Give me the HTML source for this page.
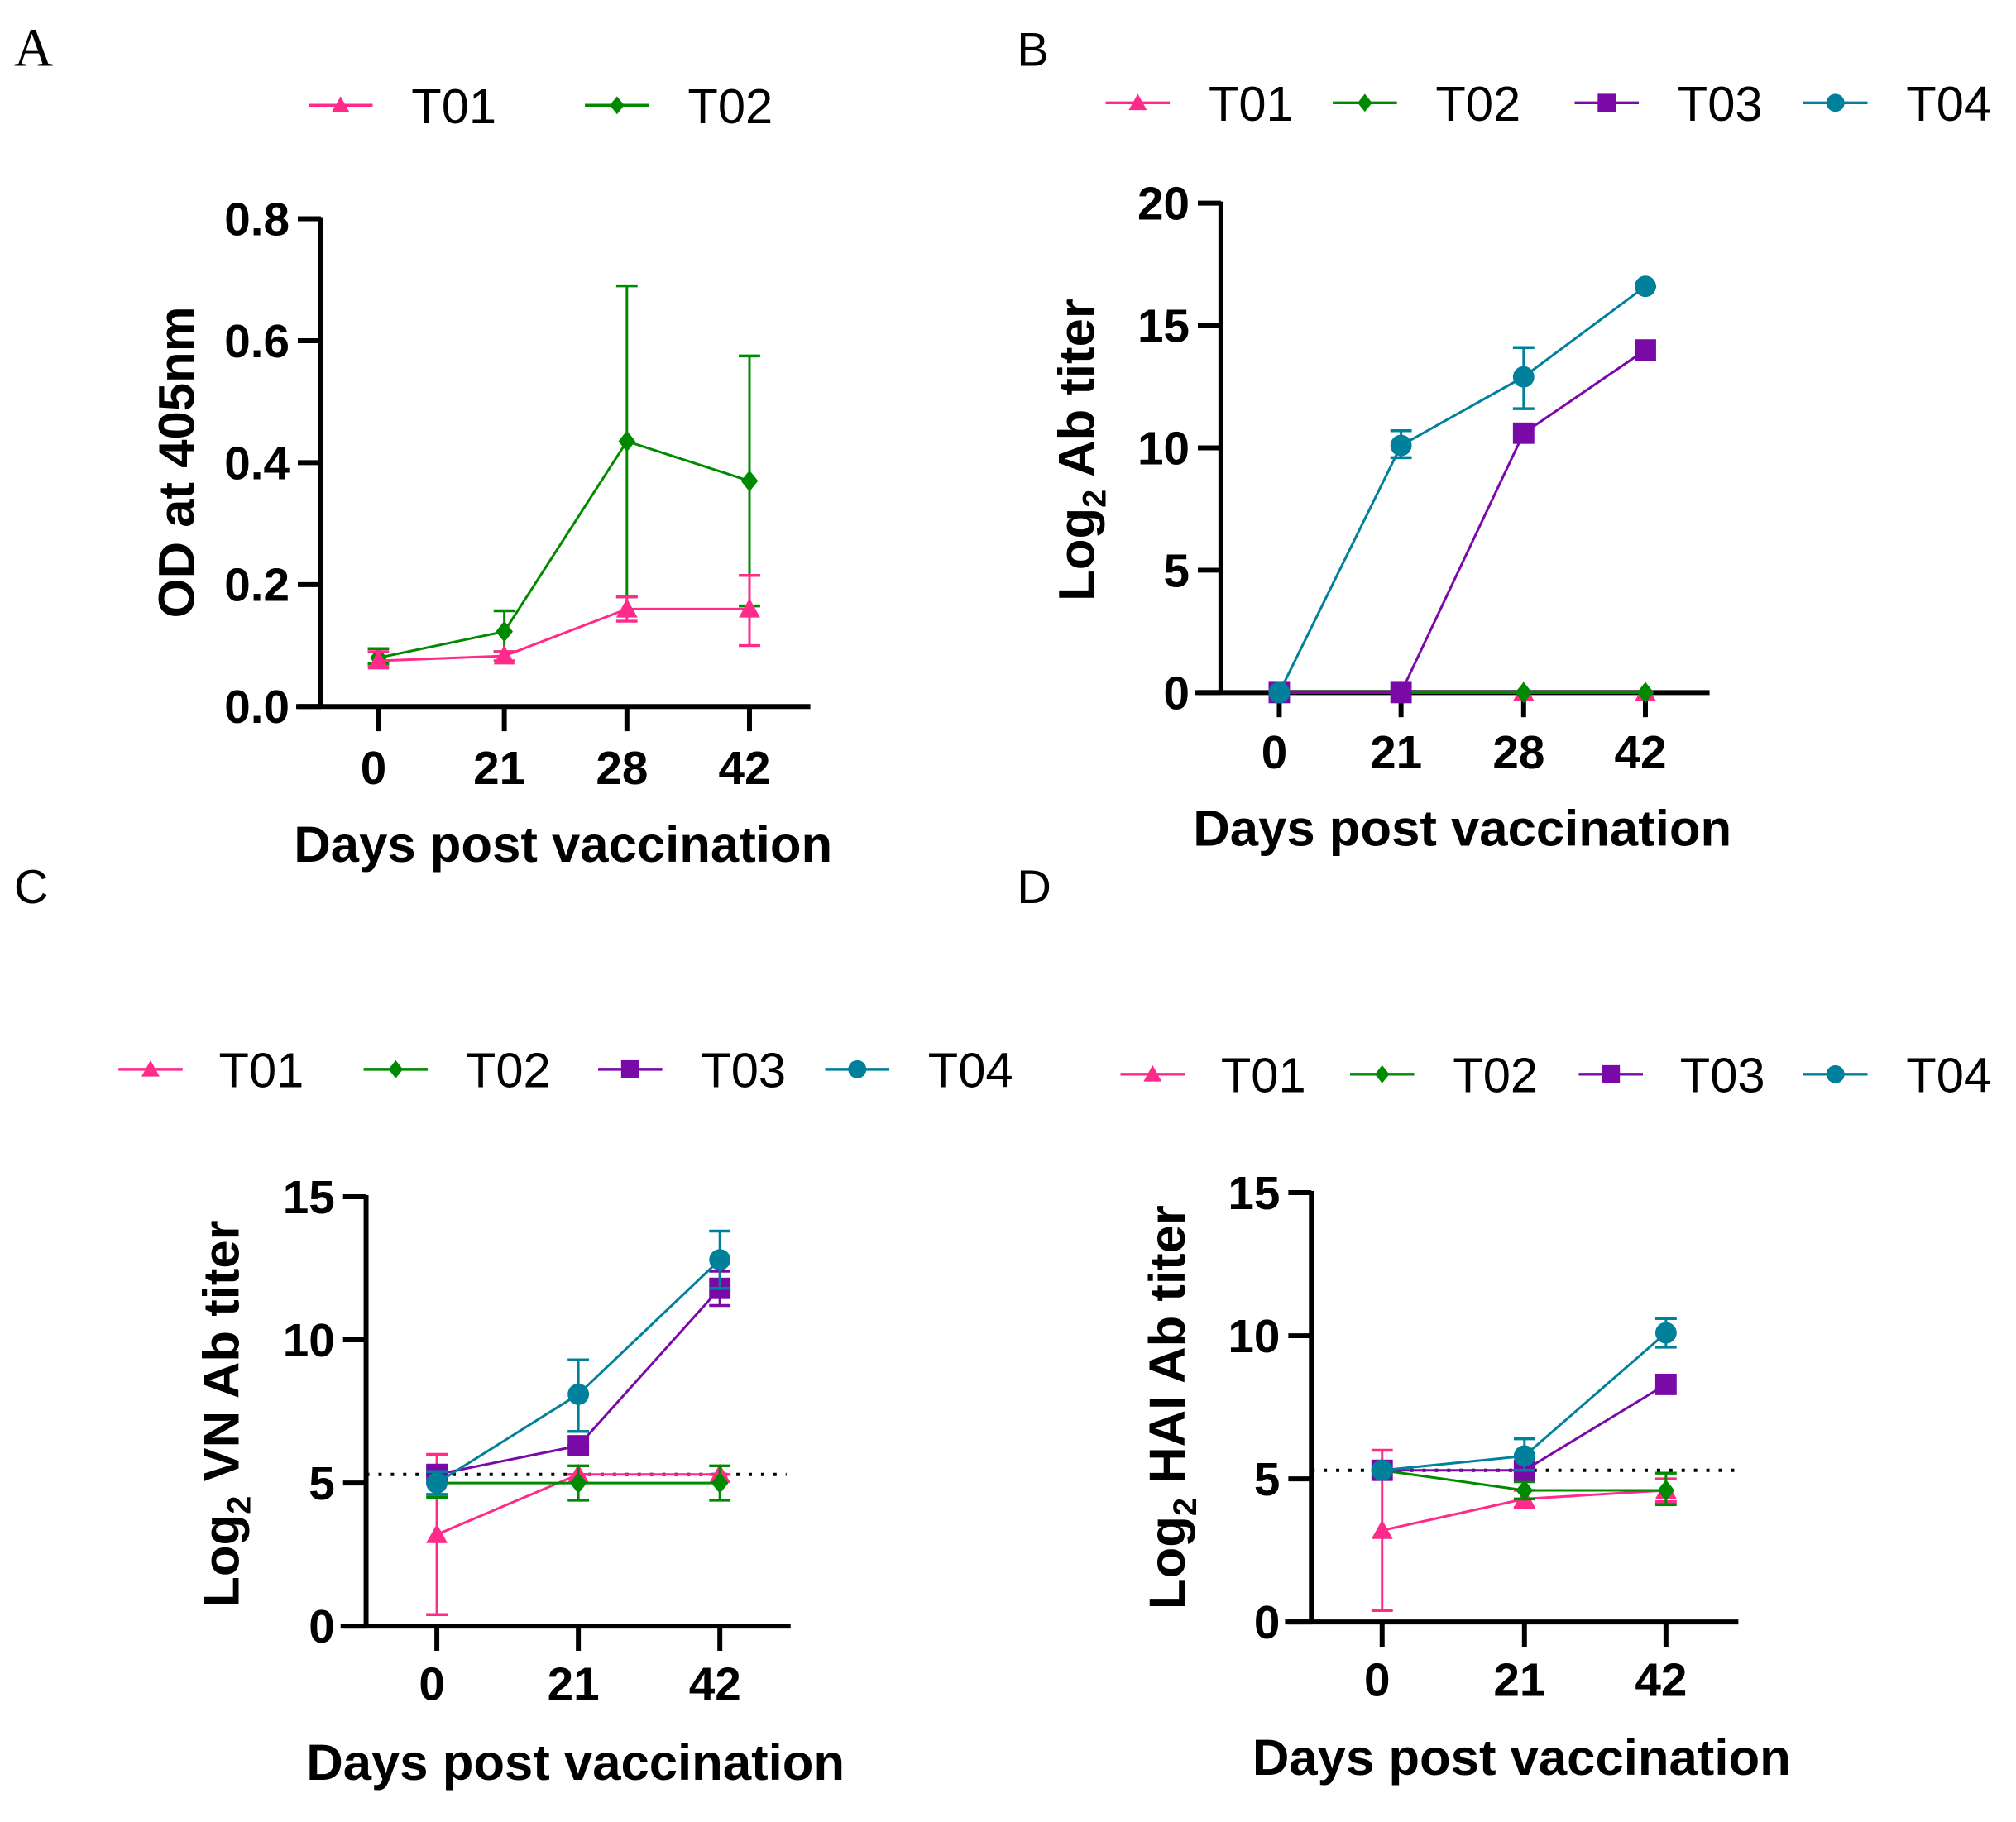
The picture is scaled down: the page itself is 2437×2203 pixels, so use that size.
<!DOCTYPE html>
<html><head><meta charset="utf-8"><style>
html,body{margin:0;padding:0;background:#fff;}
svg{display:block;font-family:"Liberation Sans",sans-serif;}
</style></head><body>
<svg width="2437" height="2203" viewBox="0 0 2437 2203" xmlns="http://www.w3.org/2000/svg">
<g id="fig" transform="scale(0.9945)">
<text x="17" y="80" font-family="Liberation Serif,serif" font-size="66">A</text>
<text x="1236" y="80" font-size="58">B</text>
<text x="17" y="1098" font-size="58">C</text>
<text x="1236" y="1098" font-size="58">D</text>
</g>
</svg>
<script>
const COLORS={T01:"#ff2a8a",T02:"#008a00",T03:"#7a0aa8",T04:"#00809a"};
const MARKERS={T01:"tri",T02:"dia",T03:"sq",T04:"circ"};
// Panel A
const catsA=["0","21","28","42"];
const yTicksA=["0.0","0.2","0.4","0.6","0.8"];
const a_T01=[0.075,0.083,0.16,0.16];
const a_T01_lo=[0.065,0.075,0.14,0.10];
const a_T01_hi=[0.09,0.09,0.18,0.215];
const a_T02=[0.08,0.123,0.435,0.37];
const a_T02_lo=[0.07,0.09,0.18,0.165];
const a_T02_hi=[0.095,0.157,0.69,0.575];
// Panel B
const catsB=["0","21","28","42"];
const yTicksB=["0","5","10","15","20"];
const b_T01=[0,0,0,0];
const b_T02=[0,0,0,0];
const b_T03=[0,0,10.6,14.0];
const b_T04=[0,10.1,12.9,16.6];
const b_T04_lo=[0,9.6,11.6,16.6];
const b_T04_hi=[0,10.7,14.1,16.6];
// Panel C
const catsC=["0","21","42"];
const yTicksC=["0","5","10","15"];
const c_T01=[3.2,5.3,5.3];
const c_T01_lo=[0.4,5.3,5.3];
const c_T01_hi=[6.0,5.3,5.3];
const c_T02=[5.0,5.0,5.0];
const c_T02_lo=[4.5,4.4,4.4];
const c_T02_hi=[5.5,5.6,5.6];
const c_T03=[5.3,6.3,11.8];
const c_T03_lo=[5.3,6.3,11.2];
const c_T03_hi=[5.3,6.3,12.4];
const c_T04=[5.0,8.1,12.8];
const c_T04_lo=[4.6,6.8,11.8];
const c_T04_hi=[5.4,9.3,13.8];
// Panel D
const catsD=["0","21","42"];
const yTicksD=["0","5","10","15"];
const d_T01=[3.2,4.3,4.6];
const d_T01_lo=[0.4,4.0,4.2];
const d_T01_hi=[6.0,4.6,5.0];
const d_T02=[5.3,4.6,4.6];
const d_T02_lo=[5.3,4.3,4.1];
const d_T02_hi=[5.3,4.9,5.2];
const d_T03=[5.3,5.3,8.3];
const d_T04=[5.3,5.8,10.1];
const d_T04_lo=[5.3,5.3,9.6];
const d_T04_hi=[5.3,6.4,10.6];
const cutoff=5.3;

const NS="http://www.w3.org/2000/svg";
const svg=document.getElementById("fig");
function mk(tag,attrs,parent){const e=document.createElementNS(NS,tag);for(const k in attrs)e.setAttribute(k,attrs[k]);(parent||svg).appendChild(e);return e;}
function marker(g,type,x,y,c,s){
  let e;
  if(type==="tri")e=mk("polygon",{points:`${x},${y-s} ${x-s},${y+s*0.8} ${x+s},${y+s*0.8}`,fill:c},g);
  else if(type==="dia")e=mk("polygon",{points:`${x},${y-s} ${x+s*0.8},${y} ${x},${y+s} ${x-s*0.8},${y}`,fill:c},g);
  else if(type==="sq")e=mk("rect",{x:x-s,y:y-s,width:2*s,height:2*s,fill:c},g);
  else e=mk("circle",{cx:x,cy:y,r:s,fill:c},g);
  return e;
}
function panel(p){
  const g=mk("g",{});
  
  
  const ymax=p.ymax;
  const Y=v=>p.y0-(v/ymax)*(p.y0-p.ytop);
  const X=i=>p.xs[i];
  p.legend.forEach(l=>{
    const lg=mk("g",{},g);
    
    
    mk("line",{x1:l.x1,x2:l.x1+78,y1:p.ly,y2:p.ly,stroke:COLORS[l.s],"stroke-width":3.5},lg);
    marker(lg,MARKERS[l.s],l.x1+39,p.ly,COLORS[l.s],11);
    const t=mk("text",{x:l.tx,y:p.ly+22,"font-size":60},lg);t.textContent=l.s;
  });
  const ax=mk("g",{},g);
  
  
  mk("line",{x1:p.ax,x2:p.ax,y1:p.ytop-2,y2:p.y0,stroke:"#000","stroke-width":6},ax);
  p.yt.forEach((t,i)=>{
    const v=ymax*i/(p.yt.length-1);const y=Y(v);
    mk("line",{x1:p.ax-28,x2:p.ax,y1:y,y2:y,stroke:"#000","stroke-width":6},ax);
    const tx=mk("text",{x:p.ax-38,y:y+20,"font-size":57,"font-weight":"bold","text-anchor":"end"},ax);tx.textContent=t;
  });
  const xa=mk("g",{},g);
  
  
  mk("line",{x1:p.xa1,x2:p.xa2,y1:p.y0,y2:p.y0,stroke:"#000","stroke-width":6},xa);
  p.cats.forEach((c,i)=>{
    mk("line",{x1:X(i),x2:X(i),y1:p.y0,y2:p.y0+30,stroke:"#000","stroke-width":6},xa);
    const tx=mk("text",{x:X(i)-6,y:p.tly,"font-size":57,"font-weight":"bold","text-anchor":"middle"},xa);tx.textContent=c;
  });
  const xt=mk("text",{x:(p.xa1+p.xa2)/2+12,y:p.ttl,"font-size":62,"font-weight":"bold","text-anchor":"middle"},g);
  xt.textContent="Days post vaccination";
  
  
  const yt=mk("text",{transform:`translate(${p.ytx},${p.yty}) rotate(-90)`,"font-size":62,"font-weight":"bold","text-anchor":"middle"},g);
  
  
  if(p.ylab2){const a=mk("tspan",{},yt);a.textContent="Log";const b=mk("tspan",{"font-size":40,dy:14},yt);b.textContent="2";const c=mk("tspan",{dy:-14},yt);c.textContent=" "+p.ylab2;}
  else yt.textContent=p.ylab;
  if(p.cut!==undefined){
    const cl=mk("line",{x1:p.ax,x2:p.xa2-5,y1:Y(p.cut),y2:Y(p.cut),stroke:"#000","stroke-width":4,"stroke-dasharray":"4 11"},g);
    
    
  }
  p.series.forEach(s=>{
    const sg=mk("g",{},g);
    
    
    const c=COLORS[s.s];
    if(s.lo)s.v.forEach((v,i)=>{
      const x=X(i);
      mk("line",{x1:x,x2:x,y1:Y(s.lo[i]),y2:Y(s.hi[i]),stroke:c,"stroke-width":3},sg);
      mk("line",{x1:x-13,x2:x+13,y1:Y(s.lo[i]),y2:Y(s.lo[i]),stroke:c,"stroke-width":3.5},sg);
      mk("line",{x1:x-13,x2:x+13,y1:Y(s.hi[i]),y2:Y(s.hi[i]),stroke:c,"stroke-width":3.5},sg);
    });
    mk("polyline",{points:s.v.map((v,i)=>X(i)+","+Y(v)).join(" "),fill:"none",stroke:c,"stroke-width":3},sg);
    s.v.forEach((v,i)=>{const m=marker(sg,MARKERS[s.s],X(i),Y(v),c,13);
      
      });
  });
}
panel({name:"panel-a",ymax:0.8,y0:859,ytop:266,ax:390,xa1:360,xa2:985,xs:[460,613,762,911],cats:catsA,yt:yTicksA,tly:953,ttl:1048,ytx:236,yty:562,ylab:"OD at 405nm",ly:128,
 legend:[{s:"T01",x1:375,tx:500},{s:"T02",x1:711,tx:836}],
 series:[{s:"T02",v:a_T02,lo:a_T02_lo,hi:a_T02_hi},{s:"T01",v:a_T01,lo:a_T01_lo,hi:a_T01_hi}]});
panel({name:"panel-b",ymax:20,y0:842,ytop:247,ax:1484,xa1:1453,xa2:2078,xs:[1555,1703,1852,2000],cats:catsB,yt:yTicksB,tly:934,ttl:1028,ytx:1330,yty:547,ylab2:"Ab titer",ly:125,
 legend:[{s:"T01",x1:1344,tx:1469},{s:"T02",x1:1620,tx:1745},{s:"T03",x1:1914,tx:2039},{s:"T04",x1:2192,tx:2317}],
 series:[{s:"T01",v:b_T01},{s:"T02",v:b_T02},{s:"T03",v:b_T03},{s:"T04",v:b_T04,lo:b_T04_lo,hi:b_T04_hi}]});
panel({name:"panel-c",ymax:15,y0:1977,ytop:1455,ax:445,xa1:414,xa2:961,xs:[531,703,875],cats:catsC,yt:yTicksC,tly:2067,ttl:2164,ytx:290,yty:1719,ylab2:"VN Ab titer",ly:1300,cut:cutoff,
 legend:[{s:"T01",x1:144,tx:266},{s:"T02",x1:442,tx:566},{s:"T03",x1:727,tx:852},{s:"T04",x1:1003,tx:1128}],
 series:[{s:"T01",v:c_T01,lo:c_T01_lo,hi:c_T01_hi},{s:"T02",v:c_T02,lo:c_T02_lo,hi:c_T02_hi},{s:"T03",v:c_T03,lo:c_T03_lo,hi:c_T03_hi},{s:"T04",v:c_T04,lo:c_T04_lo,hi:c_T04_hi}]});
panel({name:"panel-d",ymax:15,y0:1972,ytop:1450,ax:1594,xa1:1562,xa2:2113,xs:[1680,1853,2025],cats:catsD,yt:yTicksD,tly:2062,ttl:2158,ytx:1440,yty:1711,ylab2:"HAI Ab titer",ly:1306,cut:cutoff,
 legend:[{s:"T01",x1:1362,tx:1484},{s:"T02",x1:1641,tx:1766},{s:"T03",x1:1919,tx:2042},{s:"T04",x1:2192,tx:2317}],
 series:[{s:"T01",v:d_T01,lo:d_T01_lo,hi:d_T01_hi},{s:"T02",v:d_T02,lo:d_T02_lo,hi:d_T02_hi},{s:"T03",v:d_T03},{s:"T04",v:d_T04,lo:d_T04_lo,hi:d_T04_hi}]});
</script>
</body></html>
